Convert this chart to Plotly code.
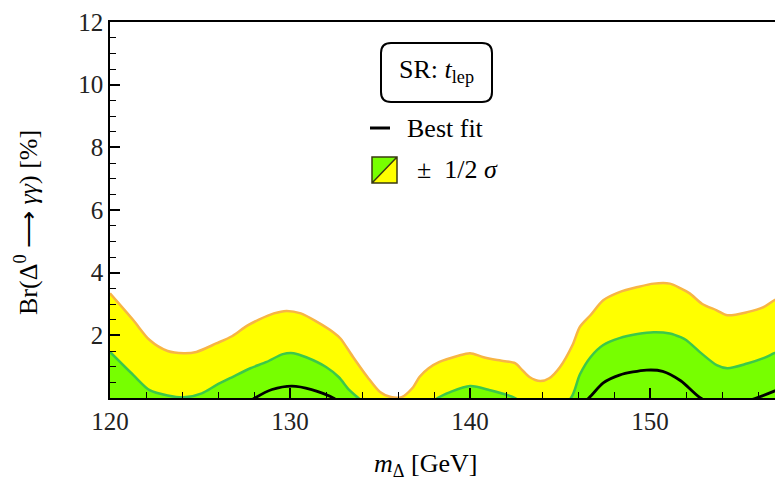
import plotly.graph_objects as go

# ---- data ----
mass_outer = [120, 121.3, 122.2, 123.2, 124.1, 124.8, 125.9, 126.8, 127.6, 128.3, 129.1, 129.8,
              130.6, 131.5, 132.4, 132.8, 133.5, 134.3, 135.0, 135.6, 136.2, 136.8, 137.2, 137.7,
              138.3, 139.3, 140.0, 140.7, 141.5, 142.5, 142.9, 143.3, 143.9, 144.4, 145.0, 145.7,
              146.1, 146.7, 147.4, 148.3, 149.3, 150.2, 151.1, 151.7, 152.2, 152.9, 153.7, 154.3,
              155.4, 156.3, 156.9, 158]
br_outer = [3.34, 2.48, 1.85, 1.50, 1.43, 1.47, 1.74, 1.98, 2.30, 2.51, 2.70, 2.78,
            2.70, 2.43, 2.10, 1.90, 1.31, 0.67, 0.19, 0.03, 0.03, 0.32, 0.68, 0.95,
            1.15, 1.34, 1.43, 1.31, 1.21, 1.11, 0.89, 0.67, 0.54, 0.63, 0.99, 1.70,
            2.27, 2.65, 3.12, 3.38, 3.54, 3.65, 3.65, 3.50, 3.34, 3.00, 2.80, 2.64,
            2.74, 2.90, 3.12, 3.40]

mass_inner = [120, 121.3, 122.2, 123.2, 124.1, 125.1, 125.9, 126.8, 127.8, 128.7, 129.6, 130.2,
              130.9, 132.0, 132.7, 133.3, 133.8, 135.0, 136.5, 137.6, 138.2, 138.9, 140.0, 141.1,
              142.5, 143.2, 144.5, 145.6, 146.1, 146.7, 147.4, 148.3, 149.3, 150.2, 151.1, 151.7,
              152.0, 152.9, 153.7, 154.3, 155.4, 156.3, 156.9, 158]
br_inner = [1.47, 0.73, 0.25, 0.08, 0.02, 0.15, 0.41, 0.67, 0.95, 1.15, 1.40, 1.43,
            1.30, 0.99, 0.67, 0.25, 0.0, -0.6, -0.8, -0.3, 0.0, 0.19, 0.38, 0.25,
            0.0, -0.3, -0.4, 0.0, 0.75, 1.31, 1.69, 1.91, 2.04, 2.10, 2.06, 1.94,
            1.85, 1.40, 1.05, 0.95, 1.10, 1.27, 1.43, 1.70]

mass_best = [120, 122, 124, 126, 127, 128.05, 129, 130.1, 131.2, 132.4, 133.5, 135, 137, 139,
             141, 143, 145, 146.6, 147.4, 148.3, 149.8, 150.7, 151.7, 152.8, 154, 155.1, 155.9,
             156.9, 158]
br_best = [-0.6, -1.2, -1.4, -0.8, -0.4, 0.0, 0.27, 0.38, 0.27, 0.0, -0.5, -1.5, -1.2, -0.6,
           -0.8, -1.5, -0.8, 0.0, 0.48, 0.73, 0.89, 0.85, 0.55, 0.0, -0.3, -0.15, 0.0,
           0.22, 0.5]

y_ticks = [2, 4, 6, 8, 10, 12]
x_range = [120, 156.94]
y_range = [0, 12]

FONT = "Liberation Serif"
YELLOW = "#FFFF00"
ORANGE = "#F7B545"
GREEN_FILL = "#77FF00"
GREEN_LINE = "#3CC84A"

fig = go.Figure()
fig.add_trace(go.Scatter(x=mass_outer, y=br_outer, mode="lines", fill="tozeroy",
                         fillcolor=YELLOW, line=dict(color=ORANGE, width=2.5, shape="spline", smoothing=0.8),
                         showlegend=False, hoverinfo="skip"))
fig.add_trace(go.Scatter(x=mass_inner, y=br_inner, mode="lines", fill="tozeroy",
                         fillcolor=GREEN_FILL, line=dict(color=GREEN_LINE, width=2.5, shape="spline", smoothing=0.8),
                         showlegend=False, hoverinfo="skip"))
fig.add_trace(go.Scatter(x=mass_best, y=br_best, mode="lines",
                         line=dict(color="black", width=2.8, shape="spline", smoothing=0.8),
                         showlegend=False, hoverinfo="skip"))

L, R, T, B = 110, 0, 22, 94
W, H = 775, 492
pw, ph = W - L - R, H - T - B


def px(xp):
    return (xp - L) / pw


def py(yp):
    return (H - B - yp) / ph


# rounded legend box
x0, x1, y0, y1 = px(381), px(492), py(102), py(43)
rx, ry = 10 / pw, 10 / ph
path = (f"M {x0+rx},{y0} L {x1-rx},{y0} Q {x1},{y0} {x1},{y0+ry} L {x1},{y1-ry} "
        f"Q {x1},{y1} {x1-rx},{y1} L {x0+rx},{y1} Q {x0},{y1} {x0},{y1-ry} "
        f"L {x0},{y0+ry} Q {x0},{y0} {x0+rx},{y0} Z")
shapes = [dict(type="path", path=path, xref="paper", yref="paper",
               line=dict(color="black", width=2), fillcolor="white")]
# best-fit legend dash
shapes.append(dict(type="line", xref="paper", yref="paper", x0=px(370), x1=px(390),
                   y0=py(128), y1=py(128), line=dict(color="black", width=3)))
# split square
sx0, sx1, sy0, sy1 = px(372), px(397), py(183), py(157)
shapes.append(dict(type="path", xref="paper", yref="paper",
                   path=f"M {sx0},{sy0} L {sx0},{sy1} L {sx1},{sy1} Z",
                   fillcolor=GREEN_FILL, line=dict(width=0)))
shapes.append(dict(type="path", xref="paper", yref="paper",
                   path=f"M {sx0},{sy0} L {sx1},{sy1} L {sx1},{sy0} Z",
                   fillcolor=YELLOW, line=dict(width=0)))
shapes.append(dict(type="path", xref="paper", yref="paper",
                   path=f"M {sx0},{sy0} L {sx0},{sy1} L {sx1},{sy1} L {sx1},{sy0} Z M {sx0},{sy0} L {sx1},{sy1}",
                   line=dict(color="#3a3a10", width=1.5)))

annotations = [
    dict(text="SR: <i>t</i><sub>lep</sub>", xref="paper", yref="paper", x=px(436), y=py(71),
         xanchor="center", yanchor="middle", showarrow=False, font=dict(family=FONT, size=26, color="black")),
    dict(text="Best fit", xref="paper", yref="paper", x=px(405), y=py(128),
         xanchor="left", yanchor="middle", showarrow=False, font=dict(family=FONT, size=26, color="black")),
    dict(text="±  1/2 <i>σ</i>", xref="paper", yref="paper", x=px(415), y=py(170),
         xanchor="left", yanchor="middle", showarrow=False, font=dict(family=FONT, size=26, color="black")),
    dict(text="<i>m</i><sub>Δ</sub> [GeV]", xref="paper", yref="paper", x=px(425), y=py(465),
         xanchor="center", yanchor="middle", showarrow=False, font=dict(family=FONT, size=26, color="black")),
    dict(text="Br(Δ<sup>0</sup> ⟶ <i>γγ</i>) [%]", xref="paper", yref="paper", x=px(27), y=py(223),
         xanchor="center", yanchor="middle", textangle=-90, showarrow=False,
         font=dict(family=FONT, size=26, color="black")),
]

fig.update_layout(
    width=W, height=H,
    margin=dict(l=L, r=R, t=T, b=B),
    paper_bgcolor="white", plot_bgcolor="white",
    font=dict(family=FONT, size=25, color="black"),
    shapes=shapes, annotations=annotations,
    xaxis=dict(range=x_range, showgrid=False, zeroline=False, showline=True, linecolor="black",
               linewidth=1.5, mirror=True, ticks="inside", ticklen=10, tickwidth=1.5, tickcolor="black",
               tick0=120, dtick=10, tickfont=dict(family=FONT, size=25, color="#222"),
               minor=dict(ticks="inside", ticklen=6, tickwidth=1.2, tickcolor="black", dtick=2, tick0=120)),
    yaxis=dict(range=y_range, showgrid=False, zeroline=False, showline=True, linecolor="black",
               linewidth=1.5, ticks="inside", ticklen=10, tickwidth=1.5, tickcolor="black",
               tickvals=y_ticks, ticktext=[str(v) for v in y_ticks],
               tickfont=dict(family=FONT, size=25, color="#222"),
               minor=dict(ticks="inside", ticklen=6, tickwidth=1.2, tickcolor="black", dtick=0.5, tick0=0)),
)

fig.write_html("out.html")
